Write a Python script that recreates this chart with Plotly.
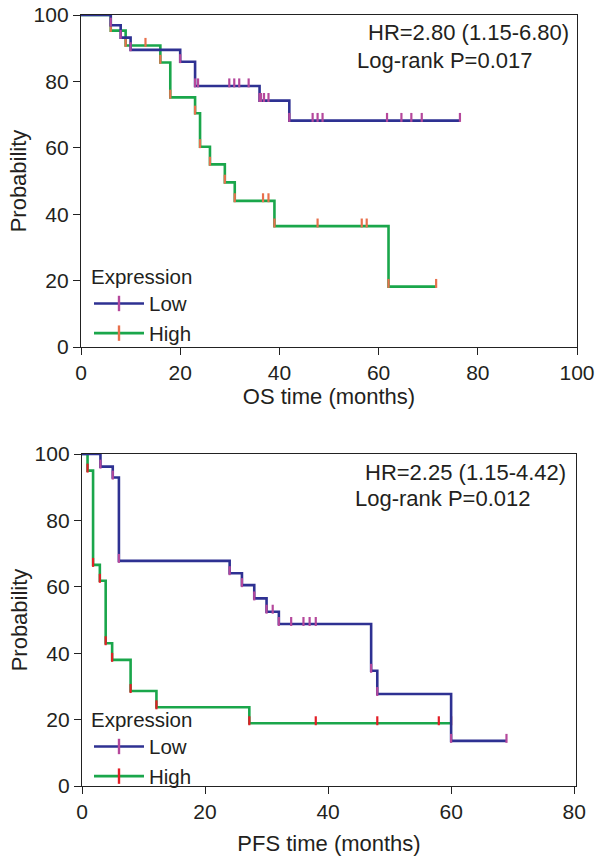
import plotly.graph_objects as go

# ---------------- data ----------------
# OS panel
os_low_times = [0, 6, 8, 10, 20, 23, 36, 42]
os_low_surv = [100, 96.9, 93.2, 89.5, 85.9, 78.6, 74.2, 68.2]
os_low_end = 76.4
os_low_censor = [23.6, 29.9, 30.9, 31.9, 33.8, 36.3, 36.9, 37.8, 46.7, 47.7, 48.7,
                 61.7, 64.6, 66.6, 68.7, 76.4]

os_high_times = [0, 6, 9, 16, 18, 23, 24, 26, 29, 31, 39, 62]
os_high_surv = [100, 95.3, 90.8, 85.7, 75.2, 70.4, 60.3, 55.0, 49.6, 44.0, 36.4, 18.2]
os_high_end = 71.6
os_high_censor = [13, 36.7, 37.8, 47.7, 56.6, 57.6, 71.6]

# PFS panel
pfs_low_times = [0, 3, 5, 6, 24, 26, 28, 30, 32, 47, 48, 60]
pfs_low_surv = [100, 96.2, 92.9, 67.8, 64.1, 60.5, 56.5, 52.5, 48.8, 34.7, 27.7, 13.6]
pfs_low_end = 69
pfs_low_censor = [31, 34, 36, 37, 38, 69]

pfs_high_times = [0, 0.9, 1.8, 2.9, 3.85, 4.9, 7.9, 12.1, 27.2]
pfs_high_surv = [100, 95.0, 66.6, 61.8, 43.0, 38.0, 28.6, 23.7, 18.9]
pfs_high_end = 60
pfs_high_censor = [38, 48, 58, 60]

os_ticks_x = [0, 20, 40, 60, 80, 100]
pfs_ticks_x = [0, 20, 40, 60, 80]
prob_ticks = [0, 20, 40, 60, 80, 100]

groups = ["Low", "High"]

# ---------------- styles ----------------
NAVY = "#2e3192"
GREEN = "#1aa64b"
PURPLE = "#b5489c"
ORANGE = "#e8704c"
RED = "#e31e26"
FONT = "Liberation Sans, Arial, sans-serif"
TXT = "#231f20"

W, H = 602, 866


def step_value(times, surv, t):
    v = surv[0]
    for ti, si in zip(times, surv):
        if ti <= t:
            v = si
    return v


def tick_segments(times, surv, censor, up, down):
    xs, ys = [], []
    for t in list(times[1:]) + list(censor):
        s = step_value(times, surv, t)
        xs += [t, t, None]
        ys += [s - down, s + up, None]
    return xs, ys


fig = go.Figure()


def add_curve(times, surv, end, censor, line_col, tick_col, xa, ya, up, down):
    fig.add_trace(go.Scatter(
        x=list(times) + [end], y=list(surv) + [surv[-1]],
        mode="lines", line=dict(color=line_col, width=2.6, shape="hv"),
        xaxis=xa, yaxis=ya, showlegend=False, hoverinfo="skip"))
    tx, ty = tick_segments(times, surv, censor, up, down)
    fig.add_trace(go.Scatter(
        x=tx, y=ty, mode="lines", line=dict(color=tick_col, width=2.2),
        xaxis=xa, yaxis=ya, showlegend=False, hoverinfo="skip"))


add_curve(os_high_times, os_high_surv, os_high_end, os_high_censor, GREEN, ORANGE, "x", "y", 2.3, 0.4)
add_curve(os_low_times, os_low_surv, os_low_end, os_low_censor, NAVY, PURPLE, "x", "y", 2.3, 0.4)
add_curve(pfs_high_times, pfs_high_surv, pfs_high_end, pfs_high_censor, GREEN, RED, "x2", "y2", 2.1, 0.6)
add_curve(pfs_low_times, pfs_low_surv, pfs_low_end, pfs_low_censor, NAVY, PURPLE, "x2", "y2", 2.1, 0.6)

# legend entries
for name, lc, tc, xa, ya, lg in [
    (groups[0], NAVY, PURPLE, "x", "y", "legend"),
    (groups[1], GREEN, ORANGE, "x", "y", "legend"),
    (groups[0], NAVY, PURPLE, "x2", "y2", "legend2"),
    (groups[1], GREEN, RED, "x2", "y2", "legend2"),
]:
    fig.add_trace(go.Scatter(
        x=[None], y=[None], name=name, mode="lines+markers",
        line=dict(color=lc, width=2.6),
        marker=dict(symbol="line-ns", size=11, line=dict(color=tc, width=2.4)),
        xaxis=xa, yaxis=ya, legend=lg))

axis_common = dict(
    showline=True, linecolor="#222222", linewidth=1.3, mirror=True,
    ticks="outside", ticklen=7, tickwidth=1.3, tickcolor="#222222",
    showgrid=False, zeroline=False, automargin=False,
    tickfont=dict(family=FONT, size=21, color=TXT),
    layer="below traces",
)
title_font = dict(family=FONT, size=22, color=TXT)
legend_font = dict(family=FONT, size=20.5, color=TXT)
note_font = dict(family=FONT, size=22, color=TXT)

fig.update_layout(
    width=W, height=H,
    margin=dict(l=0, r=0, t=0, b=0, autoexpand=False),
    paper_bgcolor="white", plot_bgcolor="white",
    font=dict(family=FONT, color=TXT),
    xaxis=dict(domain=[81 / W, 577 / W], range=[0, 100], tickvals=os_ticks_x,
               anchor="y",
               title=dict(text="OS time (months)", font=title_font, standoff=4),
               **axis_common),
    yaxis=dict(domain=[1 - 347 / H, 1 - 15 / H], range=[0, 100], tickvals=prob_ticks,
               anchor="x",
               title=dict(text="Probability", font=title_font, standoff=0),
               **axis_common),
    xaxis2=dict(domain=[82 / W, 576 / W], range=[0, 80.3], tickvals=pfs_ticks_x,
                anchor="y2",
                title=dict(text="PFS time (months)", font=title_font, standoff=13),
                **axis_common),
    yaxis2=dict(domain=[1 - 786 / H, 1 - 454 / H], range=[0, 100], tickvals=prob_ticks,
                anchor="x2",
                title=dict(text="Probability", font=title_font, standoff=0),
                **axis_common),
    legend=dict(x=89 / W, y=1 - 257 / H, xanchor="left", yanchor="top",
                bgcolor="rgba(0,0,0,0)", borderwidth=0,
                font=legend_font,
                title=dict(text="Expression", font=legend_font),
                tracegroupgap=0, itemwidth=50),
    legend2=dict(x=89 / W, y=1 - 700 / H, xanchor="left", yanchor="top",
                 bgcolor="rgba(0,0,0,0)", borderwidth=0,
                 font=legend_font,
                 title=dict(text="Expression", font=legend_font),
                 tracegroupgap=0, itemwidth=50),
    annotations=[
        dict(text="HR=2.80 (1.15-6.80)", xref="paper", yref="paper",
             x=571 / W, y=1 - 33 / H, xanchor="right", yanchor="middle",
             showarrow=False, font=note_font),
        dict(text="Log-rank P=0.017", xref="paper", yref="paper",
             x=445 / W, y=1 - 60 / H, xanchor="center", yanchor="middle",
             showarrow=False, font=note_font),
        dict(text="HR=2.25 (1.15-4.42)", xref="paper", yref="paper",
             x=568 / W, y=1 - 472 / H, xanchor="right", yanchor="middle",
             showarrow=False, font=note_font),
        dict(text="Log-rank P=0.012", xref="paper", yref="paper",
             x=443 / W, y=1 - 498 / H, xanchor="center", yanchor="middle",
             showarrow=False, font=note_font),
    ],
)

fig.write_html("out.html",
               config={"displayModeBar": False},
               post_script="document.body.style.margin='0';document.body.style.overflow='hidden';")
